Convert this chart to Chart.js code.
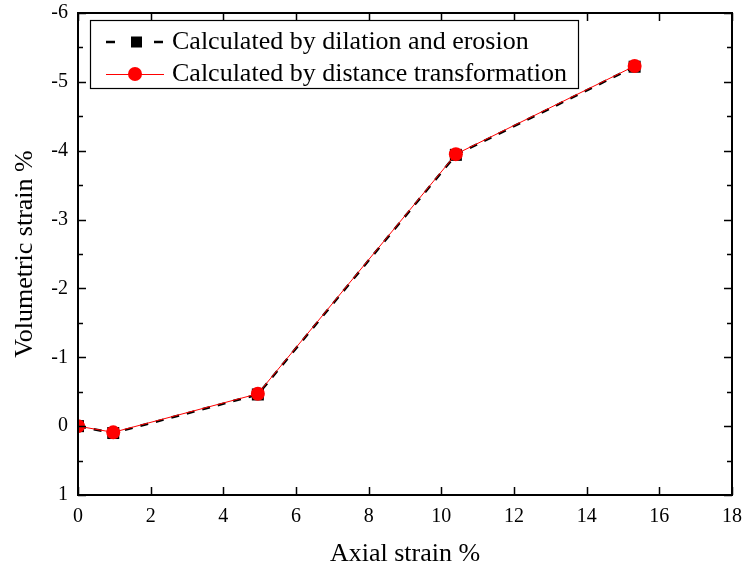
<!DOCTYPE html>
<html>
<head>
<meta charset="utf-8">
<script src="https://cdn.jsdelivr.net/npm/chart.js@4.4.0/dist/chart.umd.min.js"></script>
<style>
  html, body { margin: 0; padding: 0; background: #fff; }
  canvas { display: block; }
</style>
</head>
<body>
<canvas id="chart" width="746" height="575"></canvas>
<script>
// Axial strain (%) vs volumetric strain (%)
const axialStrain = [0, 0.97, 4.95, 10.4, 15.32];
const dilationErosion = [0, 0.1, -0.46, -3.94, -5.22];
const distanceTransform = [0, 0.09, -0.47, -3.95, -5.23];
const xTicks = [0, 2, 4, 6, 8, 10, 12, 14, 16, 18];
const yTicks = [1, 0, -1, -2, -3, -4, -5, -6];
const legendLabels = ['Calculated by dilation and erosion', 'Calculated by distance transformation'];

const FONT = '"Liberation Serif", "Times New Roman", serif';

function toPoints(xs, ys) {
    return xs.map((x, i) => ({ x: x, y: ys[i] }));
}

// frame, inward ticks and the boxed legend inside the plot
const framePlugin = {
    id: 'frame',
    afterDraw(chart) {
        const ctx = chart.ctx;
        const a = chart.chartArea;
        const xs = chart.scales.x;
        const ys = chart.scales.y;
        ctx.save();
        ctx.strokeStyle = '#000';
        ctx.lineWidth = 2;
        ctx.strokeRect(a.left, a.top, a.right - a.left, a.bottom - a.top);

        ctx.lineWidth = 1.5;
        ctx.beginPath();
        xTicks.forEach(v => {
            const px = Math.round(xs.getPixelForValue(v)) + 0.5;
            ctx.moveTo(px, a.bottom); ctx.lineTo(px, a.bottom - 8);
            ctx.moveTo(px, a.top); ctx.lineTo(px, a.top + 8);
        });
        for (let v = 1; v >= -6; v -= 0.5) {
            const len = Number.isInteger(v) ? 8 : 5;
            const py = Math.round(ys.getPixelForValue(v)) + 0.5;
            ctx.moveTo(a.left, py); ctx.lineTo(a.left + len, py);
            ctx.moveTo(a.right, py); ctx.lineTo(a.right - len, py);
        }
        ctx.stroke();

        // legend
        const bx = 90, by = 20, bw = 488, bh = 68;
        ctx.fillStyle = '#fff';
        ctx.fillRect(bx, by, bw, bh);
        ctx.lineWidth = 1.2;
        ctx.strokeRect(bx + 0.5, by + 0.5, bw, bh);

        const rows = [42, 74];
        // row 1: dashed black with square
        ctx.strokeStyle = '#000';
        ctx.lineWidth = 2.5;
        ctx.beginPath();
        ctx.moveTo(106, rows[0]); ctx.lineTo(115, rows[0]);
        ctx.moveTo(154, rows[0]); ctx.lineTo(163, rows[0]);
        ctx.stroke();
        ctx.fillStyle = '#000';
        ctx.fillRect(131, rows[0] - 5.5, 11, 11);
        // row 2: red line with circle
        ctx.strokeStyle = '#ff0000';
        ctx.lineWidth = 1;
        ctx.beginPath();
        ctx.moveTo(106, rows[1] + 0.5); ctx.lineTo(164, rows[1] + 0.5);
        ctx.stroke();
        ctx.fillStyle = '#ff0000';
        ctx.beginPath();
        ctx.arc(135, rows[1], 7, 0, Math.PI * 2);
        ctx.fill();

        ctx.fillStyle = '#000';
        ctx.font = '26px ' + FONT;
        ctx.textBaseline = 'middle';
        ctx.textAlign = 'left';
        ctx.fillText(legendLabels[0], 172, rows[0]);
        ctx.fillText(legendLabels[1], 172, rows[1]);
        ctx.restore();
    }
};

new Chart(document.getElementById('chart'), {
    type: 'scatter',
    data: {
        datasets: [{
            label: legendLabels[0],
            data: toPoints(axialStrain, dilationErosion),
            order: 1,
            showLine: true,
            borderColor: '#000',
            backgroundColor: '#000',
            borderWidth: 2.5,
            borderDash: [8, 8],
            pointStyle: 'rect',
            pointRadius: 8.5,
            pointBorderWidth: 0
        }, {
            label: legendLabels[1],
            data: toPoints(axialStrain, distanceTransform),
            order: 0,
            showLine: true,
            borderColor: '#ff0000',
            backgroundColor: '#ff0000',
            borderWidth: 1,
            pointStyle: 'circle',
            pointRadius: 7,
            pointBorderWidth: 0
        }]
    },
    options: {
        responsive: false,
        animation: false,
        events: [],
        layout: { padding: { left: 0, top: 13, right: 14, bottom: 0 } },
        plugins: { legend: { display: false }, tooltip: { enabled: false } },
        scales: {
            x: {
                type: 'linear',
                min: 0, max: 18,
                afterBuildTicks: s => { s.ticks = xTicks.map(v => ({ value: v })); },
                afterFit: s => { s.height = 80; s.paddingLeft = 0; s.paddingRight = 0; },
                grid: { display: false, drawTicks: false },
                border: { display: false },
                ticks: { color: '#000', font: { family: FONT, size: 20 }, padding: 10, maxRotation: 0 },
                title: { display: true, text: 'Axial strain %', color: '#000', font: { family: FONT, size: 26 }, padding: { bottom: 5 } }
            },
            y: {
                type: 'linear',
                min: -6, max: 1,
                reverse: true,
                afterBuildTicks: s => { s.ticks = yTicks.map(v => ({ value: v })); },
                afterFit: s => { s.width = 78; s.paddingTop = 0; s.paddingBottom = 0; },
                grid: { display: false, drawTicks: false },
                border: { display: false },
                ticks: { color: '#000', font: { family: FONT, size: 20 }, padding: 10 },
                title: { display: true, text: 'Volumetric strain %', color: '#000', font: { family: FONT, size: 26 }, padding: { top: 10 } }
            }
        }
    },
    plugins: [framePlugin]
});
</script>
</body>
</html>
